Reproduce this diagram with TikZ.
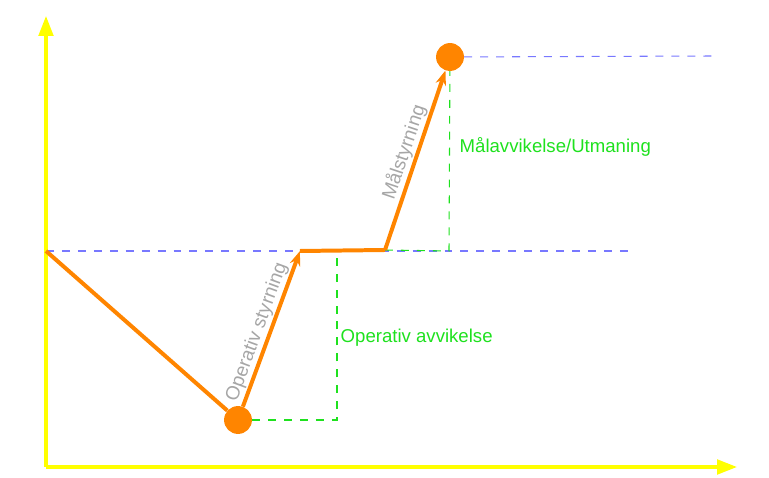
\documentclass[tikz,border=0pt]{standalone}
\usepackage{fontspec}
\setmainfont{Liberation Sans}
\usetikzlibrary{arrows.meta}
\definecolor{axisyellow}{RGB}{255,255,0}
\definecolor{moveorange}{RGB}{255,133,0}
\definecolor{refblue}{RGB}{120,120,255}
\definecolor{devgreen}{RGB}{30,225,30}

\begin{document}
\begin{tikzpicture}[x=0.0264583cm,y=-0.0264583cm,
  axis/.style={draw=axisyellow,line width=2.4pt,-{Triangle[length=15pt,width=11pt]}},
  move/.style={draw=moveorange,line width=3pt,-{Stealth[length=11pt,width=8pt]}},
  ref line/.style={draw=refblue,line width=0.8pt,dash pattern=on 6pt off 6pt},
  dev line/.style={draw=devgreen,line width=0.8pt,dash pattern=on 6pt off 6pt},
  state/.style={circle,fill=moveorange,minimum size=21pt,inner sep=0pt},
  dev label/.style={text=devgreen,font=\fontsize{14}{17}\selectfont,anchor=west},
  move label/.style={text=gray!70,font=\fontsize{14.5}{17}\selectfont,sloped,above,inner sep=1pt}]
\useasboundingbox (0,0) rectangle (769,478);

\coordinate (origo) at (46,467);
\coordinate (ytop) at (46,16);
\coordinate (xend) at (737,467);
\coordinate (start) at (46,251);
\coordinate (op) at (300,251);
\coordinate (flat) at (385,250);
\coordinate (corner1) at (337,420);
\coordinate (corner2) at (449,251);
\coordinate (blueend1) at (630,251);
\coordinate (blueend2) at (715,56);
\node[state] (low) at (238,420) {};
\node[state] (high) at (450,57) {};

% reference levels
\draw[ref line] (start) -- (blueend1);
\draw[ref line] (high) -- (blueend2);

% deviations
\draw[dev line] (low) -- (corner1) -- (corner1 |- op);
\draw[dev line] (flat) -- (corner2) -- (high);
\node[dev label] (opdev) at (336,338) {Operativ avvikelse};
\node[dev label] (goaldev) at (455,147) {Målavvikelse/Utmaning};

% axes
\draw[axis] (origo) -- (ytop);
\draw[axis] (origo) -- (xend);

% path
\draw[draw=moveorange,line width=3pt] (start) -- (low);
\draw[move] (low) -- node[move label,pos=0.45] {Operativ styrning} (op);
\draw[draw=moveorange,line width=3pt] (op) -- (flat);
\draw[move] (flat) -- node[move label,pos=0.52] {Målstyrning} (high);
\end{tikzpicture}
\end{document}
